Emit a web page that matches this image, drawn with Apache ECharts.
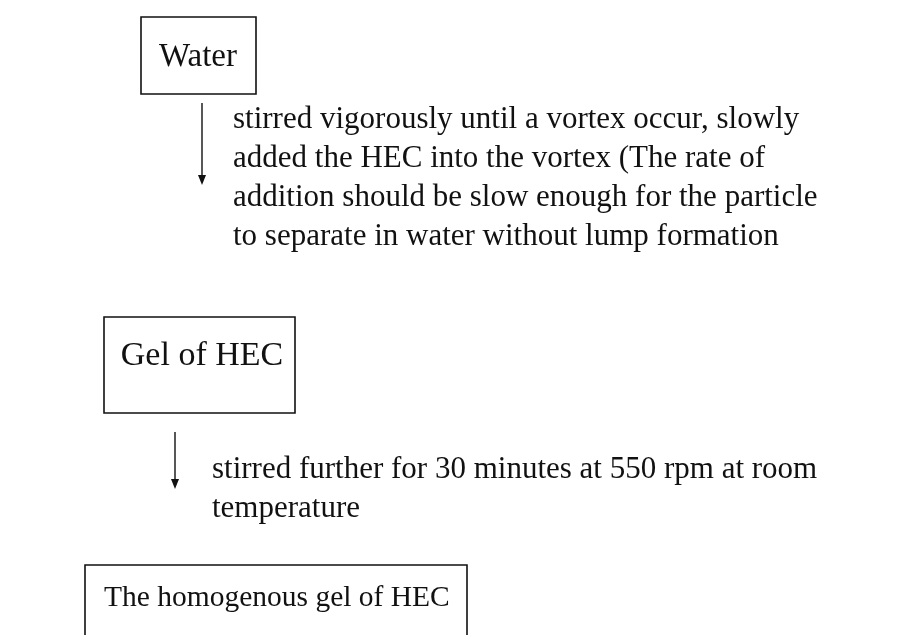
<!DOCTYPE html>
<html>
<head>
<meta charset="utf-8">
<script src="https://cdn.jsdelivr.net/npm/echarts@6/dist/echarts.min.js"></script>
<style>
  html, body { margin: 0; padding: 0; background: #fff; }
  #main { width: 901px; height: 635px; }
</style>
</head>
<body>
<div id="main"></div>
<script>
// flow steps (boxes) and the notes written beside each arrow
var boxLabels = ['Water', 'Gel of HEC', 'The homogenous gel of HEC'];
var stepNotes = [
  ['stirred vigorously until a vortex occur, slowly',
   'added the HEC into the vortex (The rate of',
   'addition should be slow enough for the particle',
   'to separate in water without lump formation'],
  ['stirred further for 30 minutes at 550 rpm at room',
   'temperature']
];

var font = '"Liberation Serif", "DejaVu Serif", serif';
var noteSize = 31;
var lineGap = 39;
var ink = '#111';

// layout of the boxes and arrows
var boxes = [
  { x: 141, y: 17, w: 115, h: 77, tx: 198, ty: 57, size: 33, align: 'center' },
  { x: 104, y: 317, w: 191, h: 96, tx: 202, ty: 356, size: 34, align: 'center' },
  { x: 85, y: 565, w: 382, h: 90, tx: 104, ty: 598, size: 29.5, align: 'left' }
];
var arrows = [
  { x: 202, y1: 103, y2: 185, tx: 233, ty: 120 },
  { x: 175, y1: 432, y2: 489, tx: 212, ty: 470 }
];

var elements = [];
boxes.forEach(function (b, i) {
  elements.push({
    type: 'rect',
    shape: { x: b.x, y: b.y, width: b.w, height: b.h },
    style: { fill: '#fff', stroke: ink, lineWidth: 1.6 }
  });
  elements.push({
    type: 'text',
    x: b.tx, y: b.ty,
    style: {
      text: boxLabels[i], font: b.size + 'px ' + font, fill: ink,
      align: b.align, verticalAlign: 'middle'
    }
  });
});
arrows.forEach(function (a, i) {
  elements.push({
    type: 'line',
    shape: { x1: a.x, y1: a.y1, x2: a.x, y2: a.y2 - 8 },
    style: { stroke: ink, lineWidth: 1.4 }
  });
  elements.push({
    type: 'polygon',
    shape: { points: [[a.x - 4, a.y2 - 10], [a.x + 4, a.y2 - 10], [a.x, a.y2]] },
    style: { fill: ink }
  });
  stepNotes[i].forEach(function (line, k) {
    elements.push({
      type: 'text',
      x: a.tx, y: a.ty + k * lineGap,
      style: {
        text: line, font: noteSize + 'px ' + font, fill: ink,
        align: 'left', verticalAlign: 'middle'
      }
    });
  });
});

var myChart = echarts.init(document.getElementById('main'));
myChart.setOption({
  backgroundColor: '#fff',
  animation: false,
  graphic: { elements: elements }
});
</script>
</body>
</html>
